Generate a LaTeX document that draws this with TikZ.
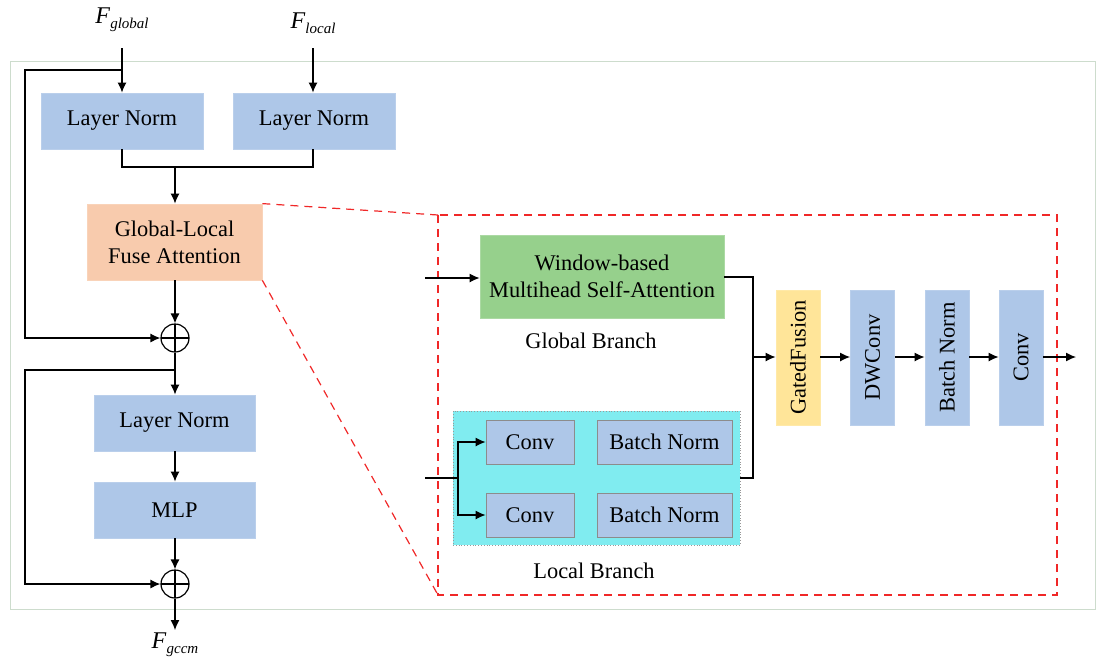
\documentclass[tikz,border=0pt]{standalone}
\usepackage{fontspec}
\setmainfont{Liberation Serif}
\usetikzlibrary{arrows.meta}
\definecolor{bluebox}{RGB}{174,199,232}
\definecolor{peach}{RGB}{248,203,173}
\definecolor{greenbox}{RGB}{150,208,140}
\definecolor{yellowbox}{RGB}{255,229,153}
\definecolor{cyanbox}{RGB}{128,236,240}
\definecolor{framecol}{RGB}{205,220,205}
\definecolor{redd}{RGB}{240,40,40}
\newcommand{\flabel}[1]{\textit{F}\raisebox{-0.45ex}{\fontsize{7.5pt}{8pt}\selectfont\itshape #1}}
\begin{document}
\begin{tikzpicture}[x=0.5pt,y=-0.5pt,
  font=\fontsize{11.2pt}{13.5pt}\selectfont,
  box/.style={rectangle, fill=bluebox, draw=bluebox!85!white, line width=0.4pt, inner sep=0pt, align=center},
  inbox/.style={box, draw=black!45},
  conn/.style={line width=0.6pt},
  arr/.style={conn, -{Latex[length=5pt,width=4.5pt]}},
  oplus/.style={circle, draw, line width=0.6pt, minimum size=14pt, inner sep=0pt,
     path picture={\draw[line width=0.6pt] (path picture bounding box.north) -- (path picture bounding box.south)
       (path picture bounding box.west) -- (path picture bounding box.east);}},
  lbl/.style={inner sep=1pt, font=\fontsize{12pt}{14pt}\selectfont}
]
\useasboundingbox (0,0) rectangle (1104,666);
% outer frame
\draw[framecol, line width=0.5pt] (10,61) rectangle (1095,609);
% labels
\node[lbl] (fg) at (122,20) {\flabel{global}};
\node[lbl] (fl) at (313,23) {\flabel{local}};
\node[lbl] (fo) at (175,645) {\flabel{gccm}};
\coordinate (gin) at (122,48);
\coordinate (lin) at (313,48);
% left column
\node[box, minimum width=81pt, minimum height=28pt] (ln1) at (122,121) {Layer Norm};
\node[box, minimum width=81pt, minimum height=28pt] (ln2) at (314,121) {Layer Norm};
\node[box, fill=peach, draw=peach!85!white, minimum width=87.5pt, minimum height=38pt] (glfa) at (174.5,242) {Global-Local\\Fuse Attention};
\node[oplus] (p1) at (175,338) {};
\node[box, minimum width=80.5pt, minimum height=28pt] (ln3) at (174.5,423) {Layer Norm};
\node[box, minimum width=80.5pt, minimum height=28pt] (mlp) at (174.5,510) {MLP};
\node[oplus] (p2) at (175,584) {};
\coordinate (out) at (175,630);

\draw[arr] (gin) -- (ln1.north -| gin);
\draw[arr] (lin) -- (ln2.north -| lin);
\coordinate (j1) at (175,167);
\draw[conn] (ln1.south -| gin) |- (j1) -| (ln2.south -| lin);
\draw[arr] (j1) -- (glfa.north -| j1);
\coordinate (r1) at (122,70);
\draw[arr] (r1) -- (25,70) |- (p1.west);
\draw[arr] (glfa.south -| p1) -- (p1.north);
\coordinate (r2) at (175,370);
\draw[conn] (p1.south) -- (r2);
\draw[arr] (r2) -- (ln3.north -| r2);
\draw[arr] (r2) -- (25,370) |- (p2.west);
\draw[arr] (ln3.south -| r2) -- (mlp.north -| r2);
\draw[arr] (mlp.south -| p2) -- (p2.north);
\draw[arr] (p2.south) -- (out);

% red dashed zoom box
\draw[redd, line width=0.6pt, dash pattern=on 4pt off 3pt] (438,215) rectangle (1057,595);
\draw[redd, line width=0.6pt, dash pattern=on 4pt off 3pt] (glfa.north east) -- (438,215);
\draw[redd, line width=0.6pt, dash pattern=on 4pt off 3pt] (glfa.south east) -- (438,595);

% global branch
\node[box, fill=greenbox, draw=greenbox!80!white, minimum width=122pt, minimum height=41.5pt] (wmsa) at (602,276.5) {Window-based\\Multihead Self-Attention};
\node (gb) at (591,341) {Global Branch};
\coordinate (win) at (425,278);
\draw[arr] (win) -- (wmsa.west |- win);

% local branch
\node[rectangle, fill=cyanbox, draw=black!40, densely dotted, line width=0.4pt, minimum width=143.5pt, minimum height=67pt] (lb) at (596.5,478) {};
\node[inbox, minimum width=44pt, minimum height=22pt] (c1) at (530,442) {Conv};
\node[inbox, minimum width=67.5pt, minimum height=22pt] (b1) at (664.5,442) {Batch Norm};
\node[inbox, minimum width=44pt, minimum height=22pt] (c2) at (530,515) {Conv};
\node[inbox, minimum width=67.5pt, minimum height=22pt] (b2) at (664.5,515) {Batch Norm};
\node (lbt) at (594,571) {Local Branch};
\coordinate (lin2) at (425,478);
\coordinate (sp) at (458,478);
\draw[conn] (lin2) -- (sp);
\draw[arr] (sp) |- (c1.west);
\draw[arr] (sp) |- (c2.west);

% fusion chain
\node[box, fill=yellowbox, draw=yellowbox!85!white, minimum width=22pt, minimum height=67.5pt] (gf) at (798,357.5) {};
\node[rotate=90] at (gf) {GatedFusion};
\node[box, minimum width=22pt, minimum height=67.5pt] (dw) at (872.5,357.5) {};
\node[rotate=90] at (dw) {DWConv};
\node[box, minimum width=22pt, minimum height=67.5pt] (bn) at (947,357.5) {};
\node[rotate=90] at (bn) {Batch Norm};
\node[box, minimum width=22pt, minimum height=67.5pt] (cv) at (1021,357.5) {};
\node[rotate=90] at (cv) {Conv};
\coordinate (m) at (753,357);
\coordinate (fout) at (1076,357);
\draw[conn] (wmsa.east |- 0,277) -- (753,277) -- (753,478) -- (lb.east |- 0,478);
\draw[arr] (m) -- (gf.west |- m);
\draw[arr] (gf.east |- m) -- (dw.west |- m);
\draw[arr] (dw.east |- m) -- (bn.west |- m);
\draw[arr] (bn.east |- m) -- (cv.west |- m);
\draw[arr] (cv.east |- m) -- (fout);
\end{tikzpicture}
\end{document}
